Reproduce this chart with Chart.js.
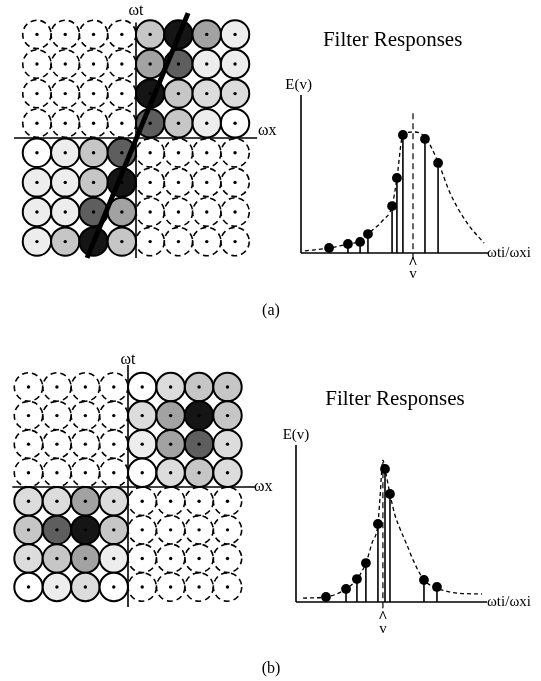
<!DOCTYPE html>
<html lang="en">
<head>
<meta charset="UTF-8">
<title>Filter Responses</title>
<script src="https://cdn.jsdelivr.net/npm/chart.js"></script>
<style>
  body { margin: 0; background: #fff; width: 541px; height: 681px; position: relative; overflow: hidden;
         font-family: 'Liberation Serif', 'Times New Roman', serif; color: #000; }
  canvas { position: absolute; }
  .cap { position: absolute; font-size: 16px; transform: translate(-50%, -50%); }
</style>
</head>
<body>
<canvas id="gridA" width="285" height="280" style="left:0px;top:0px"></canvas>
<canvas id="respA" width="271" height="290" style="left:270px;top:15px"></canvas>
<canvas id="gridB" width="285" height="280" style="left:0px;top:345px"></canvas>
<canvas id="respB" width="271" height="290" style="left:270px;top:375px"></canvas>
<div class="cap" style="left:271px;top:310px">(a)</div>
<div class="cap" style="left:271px;top:668px">(b)</div>

<script>
// filter centres along ωx (columns) and ωt (rows, top to bottom)
const colCenters = [-3.5, -2.5, -1.5, -0.5, 0.5, 1.5, 2.5, 3.5];
const rowCenters = [3.5, 2.5, 1.5, 0.5, -0.5, -1.5, -2.5, -3.5];

// response level of each filter: 0 = none (dashed), 1 = white ... 7 = black
const shadeA = [
  [0, 0, 0, 0, 4, 7, 5, 2],
  [0, 0, 0, 0, 5, 6, 2, 2],
  [0, 0, 0, 0, 7, 4, 3, 3],
  [0, 0, 0, 0, 6, 4, 2, 1],
  [1, 2, 4, 6, 0, 0, 0, 0],
  [2, 2, 4, 7, 0, 0, 0, 0],
  [2, 2, 6, 5, 0, 0, 0, 0],
  [2, 4, 7, 4, 0, 0, 0, 0]
];
const shadeB = [
  [0, 0, 0, 0, 1, 3, 4, 4],
  [0, 0, 0, 0, 3, 5, 7, 4],
  [0, 0, 0, 0, 2, 5, 6, 3],
  [0, 0, 0, 0, 1, 3, 4, 3],
  [3, 3, 5, 3, 0, 0, 0, 0],
  [4, 6, 7, 4, 0, 0, 0, 0],
  [3, 4, 5, 2, 0, 0, 0, 0],
  [1, 2, 3, 1, 0, 0, 0, 0]
];
const grays = ['#ffffff', '#ffffff', '#ededed', '#dcdcdc', '#c6c6c6', '#a2a2a2', '#5e5e5e', '#151515'];

// velocity line through the spectrum in (a)
const lineAx = [-1.73, 1.84];
const lineAy = [-4.05, 4.22];

// sampled filter energies, (a)
const ratioA  = [1.50, 2.51, 3.16, 3.58, 4.87, 5.13, 5.45, 6.63, 7.33];
const energyA = [0.032, 0.057, 0.070, 0.120, 0.297, 0.475, 0.747, 0.722, 0.570];
const curveXA = [0.21, 1.50, 2.51, 3.16, 3.58, 4.39, 4.87, 5.13, 5.45, 5.99, 6.63, 7.33, 7.97, 8.88, 9.79];
const curveYA = [0.013, 0.032, 0.057, 0.076, 0.120, 0.209, 0.297, 0.475, 0.747, 0.766, 0.734, 0.576, 0.380, 0.190, 0.063];
const peakA = 5.99;

// sampled filter energies, (b)
const ratioB  = [1.57, 2.62, 3.19, 3.66, 4.29, 4.66, 4.92, 6.70, 7.38];
const energyB = [0.032, 0.083, 0.146, 0.248, 0.497, 0.847, 0.688, 0.140, 0.096];
const curveXB = [0.37, 1.57, 2.62, 3.19, 3.66, 3.98, 4.29, 4.40, 4.55, 4.66, 4.92, 5.18, 5.45, 5.79, 6.13, 6.70, 7.38, 8.43, 9.74];
const curveYB = [0.025, 0.032, 0.083, 0.146, 0.248, 0.376, 0.497, 0.669, 0.904, 0.847, 0.688, 0.554, 0.465, 0.369, 0.268, 0.140, 0.089, 0.057, 0.051];
const peakB = 4.55;

const serif = "'Liberation Serif', 'Times New Roman', serif";

// dashed outlines for point datasets (points ignore borderDash)
const circleDash = {
  id: 'circleDash',
  beforeDatasetDraw(chart, args) {
    const ds = chart.data.datasets[args.index];
    if (ds.circleDash) chart.ctx.setLineDash(ds.circleDash);
  },
  afterDatasetDraw(chart) { chart.ctx.setLineDash([]); }
};

// text placed at data coordinates (dy shifts in pixels)
const textLabels = {
  id: 'textLabels',
  afterDraw(chart, args, opts) {
    const { ctx, scales: { x, y } } = chart;
    ctx.save();
    ctx.fillStyle = '#000';
    (opts.items || []).forEach(t => {
      ctx.font = t.font;
      ctx.textAlign = t.align || 'center';
      ctx.textBaseline = 'middle';
      ctx.fillText(t.text, x.getPixelForValue(t.x), y.getPixelForValue(t.y) + (t.dy || 0));
    });
    ctx.restore();
  }
};

// scale limits that put value 0 at originPx on a canvas side of sizePx
function axisRange(originPx, pxPerUnit, sizePx, flip) {
  return flip
    ? { min: (originPx - sizePx) / pxPerUnit, max: originPx / pxPerUnit }
    : { min: -originPx / pxPerUnit, max: (sizePx - originPx) / pxPerUnit };
}

function baseOptions(canvas, ox, oy, ux, uy, items) {
  return {
    responsive: false,
    animation: false,
    events: [],
    layout: { padding: 0, autoPadding: false },
    plugins: { legend: { display: false }, tooltip: { enabled: false }, textLabels: { items } },
    scales: {
      x: { type: 'linear', display: false, ...axisRange(ox, ux, canvas.width, false) },
      y: { type: 'linear', display: false, ...axisRange(oy, uy, canvas.height, true) }
    }
  };
}

function segment(x0, y0, x1, y1, extra) {
  return Object.assign({
    data: [{ x: x0, y: y0 }, { x: x1, y: y1 }],
    showLine: true, pointRadius: 0, borderColor: '#000', borderWidth: 1.6
  }, extra);
}

function gridChart(id, shade, ox, oy, ux, uy, radius, axes, labels, velocity) {
  const canvas = document.getElementById(id);
  const empty = [], filled = [], fills = [], centres = [];
  shade.forEach((row, i) => row.forEach((lvl, j) => {
    const p = { x: colCenters[j], y: rowCenters[i] };
    centres.push(p);
    if (lvl === 0) empty.push(p);
    else { filled.push(p); fills.push(grays[lvl]); }
  }));
  const datasets = [
    { data: centres, pointRadius: 1.7, pointBackgroundColor: '#000', pointBorderWidth: 0, order: 0 },
    segment(0, axes.vy0, 0, axes.vy1, { order: 2 }),
    segment(axes.hx0, 0, axes.hx1, 0, { order: 2 }),
    { data: filled, pointRadius: radius, pointBackgroundColor: fills, pointBorderColor: '#000', pointBorderWidth: 2, order: 3 },
    { data: empty, pointRadius: radius, pointBackgroundColor: 'rgba(0,0,0,0)', pointBorderColor: '#000',
      pointBorderWidth: 1.6, circleDash: [6, 4], order: 4 }
  ];
  if (velocity) {
    datasets.push(segment(velocity.x[0], velocity.y[0], velocity.x[1], velocity.y[1],
      { borderWidth: 5, borderCapStyle: 'butt', order: 1 }));
  }
  return new Chart(canvas, {
    type: 'scatter',
    data: { datasets },
    options: baseOptions(canvas, ox, oy, ux, uy, labels),
    plugins: [circleDash, textLabels]
  });
}

function responseChart(id, ox, oy, ux, uy, ratio, energy, cx, cy, peak, labels) {
  const canvas = document.getElementById(id);
  const datasets = [
    { data: ratio.map((r, i) => ({ x: r, y: energy[i] })), pointRadius: 4.9,
      pointBackgroundColor: '#000', pointBorderWidth: 0, order: 0 },
    ...ratio.map((r, i) => segment(r, 0, r, energy[i], { borderWidth: 1.6, order: 1 })),
    { data: cx.map((x, i) => ({ x, y: cy[i] })), showLine: true, pointRadius: 0, borderColor: '#000',
      borderWidth: 1.3, borderDash: [4, 3], cubicInterpolationMode: 'monotone', order: 2 },
    segment(peak, -0.04, peak, 0.905, { borderWidth: 1.2, borderDash: [6, 4], order: 2 }),
    segment(0, 0, 0, 1.0, { order: 3 }),
    segment(0, 0, 10, 0, { order: 3 })
  ];
  return new Chart(canvas, {
    type: 'scatter',
    data: { datasets },
    options: baseOptions(canvas, ox, oy, ux, uy, labels),
    plugins: [textLabels]
  });
}

const fTitle = `21px ${serif}`, fAxis = `15px ${serif}`, fGrid = `16px ${serif}`;
const fV = `15px ${serif}`, fHat = `bold 16px ${serif}`;

gridChart('gridA', shadeA, 136, 138, 28.3, 29.6, 14.2,
  { vy0: -4.05, vy1: 3.9, hx0: -4.31, hx1: 4.28 },
  [
    { text: 'ωt', x: 0, y: 4.29, font: fGrid },
    { text: 'ωx', x: 4.31, y: 0.25, font: fGrid, align: 'left' }
  ],
  { x: lineAx, y: lineAy });

responseChart('respA', 31, 238, 18.7, 158, ratioA, energyA, curveXA, curveYA, peakA, [
  { text: 'Filter Responses', x: 4.9, y: 1.348, font: fTitle },
  { text: 'E(v)', x: -0.13, y: 1.063, font: fAxis },
  { text: 'ωti/ωxi', x: 9.95, y: 0, font: fAxis, align: 'left' },
  { text: '^', x: peakA, y: -0.11, dy: -7, font: fHat },
  { text: 'v', x: peakA, y: -0.11, dy: 4, font: fV }
]);

gridChart('gridB', shadeB, 128, 142, 28.43, 28.57, 14.2,
  { vy0: -4.2, vy1: 4.27, hx0: -4.07, hx1: 4.47 },
  [
    { text: 'ωt', x: 0, y: 4.45, font: fGrid },
    { text: 'ωx', x: 4.43, y: 0, font: fGrid, align: 'left' }
  ]);

responseChart('respB', 26, 227, 19.1, 157, ratioB, energyB, curveXB, curveYB, peakB, [
  { text: 'Filter Responses', x: 5.18, y: 1.287, font: fTitle },
  { text: 'E(v)', x: 0, y: 1.064, font: fAxis },
  { text: 'ωti/ωxi', x: 10.0, y: 0, font: fAxis, align: 'left' },
  { text: '^', x: peakB, y: -0.146, dy: -7, font: fHat },
  { text: 'v', x: peakB, y: -0.146, dy: 4, font: fV }
]);
</script>
</body>
</html>
